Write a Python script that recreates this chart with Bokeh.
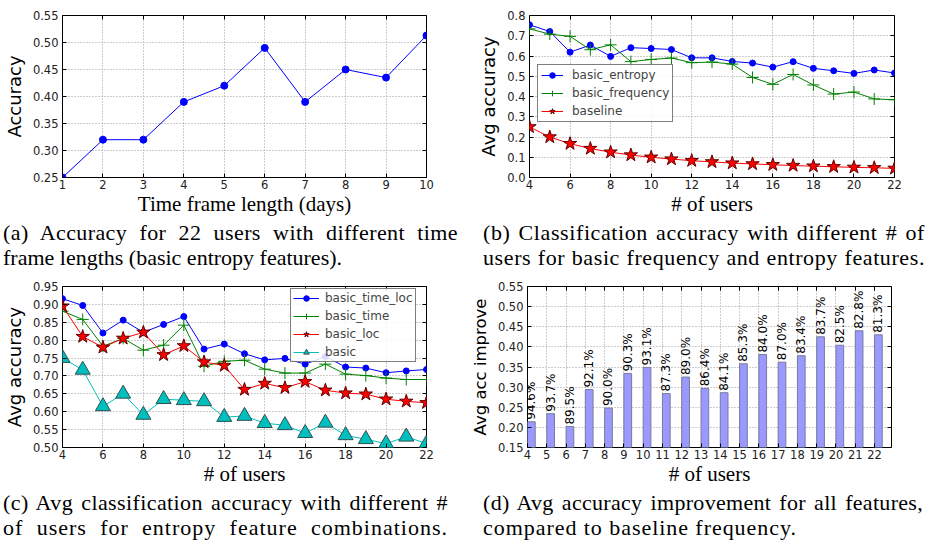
from bokeh.plotting import figure
from bokeh.models import (FixedTicker, NumeralTickFormatter, Legend, LegendItem, Div,
                          LinearAxis, ColumnDataSource, Range1d)
from bokeh.layouts import column, row
from bokeh.transform import dodge
from bokeh.core.properties import value
from bokeh.embed import file_html
from bokeh.resources import INLINE
import math

# ---------------- data ----------------
days = [1, 2, 3, 4, 5, 6, 7, 8, 9, 10]
acc_days = [0.25, 0.32, 0.32, 0.39, 0.42, 0.49, 0.39, 0.45, 0.435, 0.513]

users = list(range(4, 23))
basic_entropy = [0.754, 0.721, 0.619, 0.654, 0.598, 0.641, 0.637, 0.632, 0.591, 0.591,
                 0.573, 0.565, 0.545, 0.572, 0.539, 0.527, 0.514, 0.531, 0.516]
basic_frequency = [0.734, 0.708, 0.697, 0.631, 0.655, 0.572, 0.583, 0.590, 0.567, 0.570,
                   0.560, 0.494, 0.460, 0.509, 0.457, 0.412, 0.422, 0.388, 0.384]
baseline = [0.25, 0.2, 0.167, 0.143, 0.125, 0.111, 0.1, 0.091, 0.083, 0.077,
            0.071, 0.067, 0.063, 0.059, 0.056, 0.053, 0.05, 0.048, 0.045]

basic_time_loc = [0.916, 0.897, 0.820, 0.856, 0.822, 0.844, 0.866, 0.775, 0.789, 0.762,
                  0.745, 0.749, 0.733, 0.754, 0.725, 0.722, 0.709, 0.714, 0.718]
basic_time = [0.881, 0.858, 0.783, 0.805, 0.772, 0.786, 0.842, 0.727, 0.741, 0.744,
              0.719, 0.708, 0.708, 0.733, 0.705, 0.701, 0.694, 0.690, 0.690]
basic_loc = [0.895, 0.810, 0.780, 0.805, 0.822, 0.759, 0.784, 0.739, 0.729, 0.662,
             0.679, 0.667, 0.684, 0.660, 0.652, 0.649, 0.635, 0.629, 0.625]
basic = [0.750, 0.717, 0.615, 0.650, 0.591, 0.635, 0.632, 0.629, 0.585, 0.588,
         0.568, 0.562, 0.540, 0.569, 0.534, 0.523, 0.511, 0.530, 0.511]

improve = [0.214, 0.234, 0.202, 0.294, 0.248, 0.334, 0.349, 0.284, 0.325, 0.297,
           0.286, 0.358, 0.381, 0.362, 0.378, 0.425, 0.404, 0.440, 0.430]
improve_labels = ["94.6%", "93.7%", "89.5%", "92.1%", "90.0%", "90.3%", "93.1%", "87.3%",
                  "89.0%", "86.4%", "84.1%", "85.3%", "84.0%", "87.0%", "83.4%", "83.7%",
                  "82.5%", "82.8%", "81.3%"]

ticks_a_x = list(range(1, 11))
ticks_a_y = [0.25, 0.30, 0.35, 0.40, 0.45, 0.50, 0.55]
ticks_b_x = list(range(4, 23, 2))
ticks_b_y = [0.0, 0.1, 0.2, 0.3, 0.4, 0.5, 0.6, 0.7, 0.8]
ticks_c_y = [0.50, 0.55, 0.60, 0.65, 0.70, 0.75, 0.80, 0.85, 0.90, 0.95]
ticks_d_x = list(range(4, 23))
ticks_d_y = [0.15, 0.20, 0.25, 0.30, 0.35, 0.40, 0.45, 0.50, 0.55]

captions = [
    ("(a) Accuracy for 22 users with different time", "frame lengths (basic entropy features)."),
    ("(b) Classification accuracy with different # of", "users for basic frequency and entropy features."),
    ("(c) Avg classification accuracy with different #", "of users for entropy feature combinations."),
    ("(d) Avg accuracy improvement for all features,", "compared to baseline frequency."),
]

SANS = "DejaVu Sans"
SERIF = "Liberation Serif"
TICK = "#222222"


def make_fig(width, height, xr, yr, xt, yt, yfmt, xlabel, ylabel, borders, ylab_size="18px"):
    p = figure(width=width, height=height, x_range=Range1d(*xr), y_range=Range1d(*yr),
               output_backend="svg", toolbar_location=None,
               min_border_left=borders[0], min_border_right=borders[1],
               min_border_top=borders[2], min_border_bottom=borders[3])
    p.outline_line_color = "black"
    p.outline_line_width = 1
    p.background_fill_color = "white"
    p.border_fill_color = "white"
    p.xaxis.ticker = FixedTicker(ticks=xt)
    p.yaxis.ticker = FixedTicker(ticks=yt)
    p.yaxis.formatter = NumeralTickFormatter(format=yfmt)
    for ax in (p.xaxis[0], p.yaxis[0]):
        ax.major_tick_in = 4
        ax.major_tick_out = 0
        ax.minor_tick_line_color = None
        ax.axis_line_color = None
        ax.major_tick_line_color = "black"
        ax.major_label_text_font = SANS
        ax.major_label_text_font_size = "11.5px"
        ax.major_label_text_color = TICK
        ax.axis_label_text_font_style = "normal"
        ax.axis_label_text_color = "black"
    p.xaxis.major_label_standoff = 2
    p.yaxis.major_label_standoff = 4
    p.xaxis.axis_label = xlabel
    p.xaxis.axis_label_text_font = SERIF
    p.xaxis.axis_label_text_font_size = "21px"
    p.xaxis.axis_label_standoff = 0
    p.yaxis.axis_label = ylabel
    p.yaxis.axis_label_text_font = SANS
    p.yaxis.axis_label_text_font_size = ylab_size
    p.yaxis.axis_label_standoff = 5
    for loc, t in (("above", xt), ("right", yt)):
        ax = LinearAxis(ticker=FixedTicker(ticks=t), major_tick_in=4, major_tick_out=0,
                        minor_tick_line_color=None, axis_line_color=None,
                        major_label_text_color=None, major_label_text_font_size="1px",
                        major_label_standoff=0)
        p.add_layout(ax, loc)
    p.grid.grid_line_color = "#9a9a9a"
    p.grid.grid_line_dash = "1 2"
    p.grid.grid_line_width = 1
    return p


def style_legend(leg, loc, glyph_w, standoff):
    leg.location = loc
    leg.border_line_color = "black"
    leg.border_line_width = 1
    leg.background_fill_color = "white"
    leg.background_fill_alpha = 0.85
    leg.label_text_font = SANS
    leg.label_text_font_size = "12px"
    leg.label_height = 14
    leg.glyph_height = 14
    leg.glyph_width = glyph_w
    leg.label_standoff = standoff
    leg.spacing = 4
    leg.padding = 3
    leg.margin = 0


FIG_H = 218

# ---------------- (a) ----------------
fa = make_fig(465, FIG_H, (1, 10), (0.25, 0.55), ticks_a_x, ticks_a_y, "0.00",
              "Time frame length (days)", "Accuracy", (62, 39, 15, 41))
fa.line(days, acc_days, line_color="#0000ff", line_width=1)
fa.scatter(days, acc_days, marker="circle", size=7, fill_color="#0000ff", line_color="#0000ff")

# ---------------- (b) ----------------
fb = make_fig(470, FIG_H, (4, 22), (0.0, 0.8), ticks_b_x, ticks_b_y, "0.0",
              "# of users", "Avg accuracy", (64, 41, 15, 41))
r1 = fb.line(users, basic_entropy, line_color="#0000ff", line_width=1)
s1 = fb.scatter(users, basic_entropy, marker="circle", size=6, fill_color="#0000ff", line_color="#0000ff")
r2 = fb.line(users, basic_frequency, line_color="#008000", line_width=1)
s2 = fb.scatter(users, basic_frequency, marker="cross", size=12, line_color="#008000", line_width=1)
r3 = fb.line(users, baseline, line_color="#ff0000", line_width=1)
s3 = fb.scatter(users, baseline, marker="star", size=14, fill_color="#ff0000", line_color="#600000")
leg_b = Legend(items=[LegendItem(label="basic_entropy", renderers=[r1, s1]),
                      LegendItem(label="basic_frequency", renderers=[r2, s2]),
                      LegendItem(label="baseline", renderers=[r3, s3])])
style_legend(leg_b, (8, 55), 22, 9)
fb.add_layout(leg_b)

# ---------------- (c) ----------------
fc = make_fig(465, FIG_H, (4, 22), (0.50, 0.95), ticks_b_x, ticks_c_y, "0.00",
              "# of users", "Avg accuracy", (62, 39, 15, 41))
c1 = fc.line(users, basic_time_loc, line_color="#0000ff", line_width=1)
d1 = fc.scatter(users, basic_time_loc, marker="circle", size=6, fill_color="#0000ff", line_color="#0000ff")
c2 = fc.line(users, basic_time, line_color="#008000", line_width=1)
d2 = fc.scatter(users, basic_time, marker="cross", size=12, line_color="#008000", line_width=1)
c3 = fc.line(users, basic_loc, line_color="#ff0000", line_width=1)
d3 = fc.scatter(users, basic_loc, marker="star", size=14, fill_color="#ff0000", line_color="#600000")
c4 = fc.line(users, basic, line_color="#00bfbf", line_width=1)
d4 = fc.scatter(users, basic, marker="triangle", size=15, fill_color="#00bfbf", line_color="#305050")
leg_c = Legend(items=[LegendItem(label="basic_time_loc", renderers=[c1, d1]),
                      LegendItem(label="basic_time", renderers=[c2, d2]),
                      LegendItem(label="basic_loc", renderers=[c3, d3]),
                      LegendItem(label="basic", renderers=[c4, d4])])
style_legend(leg_c, (228, 85), 26, 6)
leg_c.padding = 2
fc.add_layout(leg_c)

# ---------------- (d) ----------------
fd = make_fig(470, FIG_H, (4, 22.88), (0.15, 0.55), ticks_d_x, ticks_d_y, "0.00",
              "# of users", "Avg acc improve", (62, 44, 16, 40), ylab_size="16.5px")
src_d = ColumnDataSource(dict(x=users, top=improve, label=improve_labels))
fd.vbar(x=dodge("x", 0.2, range=fd.x_range), top="top", bottom=0.15, width=0.4, source=src_d,
        fill_color="#9999ff", line_color="#7a7a9a", line_width=1)
fd.text(x=dodge("x", 0.2, range=fd.x_range), y="top", text="label", source=src_d,
        angle=math.pi / 2, text_align="left", text_baseline="middle", y_offset=-2,
        text_font=value(SANS), text_font_size="12px", text_color="black")

# ---------------- captions ----------------
def caption(lines, width, left, spacing=(0, 0), justify_last=False):
    l1, l2 = lines
    last = "justify" if justify_last else "left"
    html = ('<div style="width:%dpx;text-align:justify;text-align-last:justify;'
            'white-space:nowrap;letter-spacing:%spx">%s</div>'
            '<div style="width:%dpx;text-align:%s;text-align-last:%s;'
            'white-space:nowrap;letter-spacing:%spx">%s</div>'
            % (width, spacing[0], l1, width, last, last, spacing[1], l2))
    return Div(text=html, width=width, height=50, margin=(2, 0, 0, left),
               styles={"font-family": SERIF, "font-size": "22px", "line-height": "25px",
                       "color": "black"})

cap_a = caption(captions[0], 455, 3, (0.4, 0))
cap_b = caption(captions[1], 442, 25, (0.6, 0.6), True)
cap_c = caption(captions[2], 445, 3, (0.4, 1.0), True)
cap_d = caption(captions[3], 440, 35, (0.3, 0.95))

layout = column(row(fa, fb), row(cap_a, cap_b), row(fc, fd), row(cap_c, cap_d))
open("out.html", "w").write(file_html(layout, INLINE))
